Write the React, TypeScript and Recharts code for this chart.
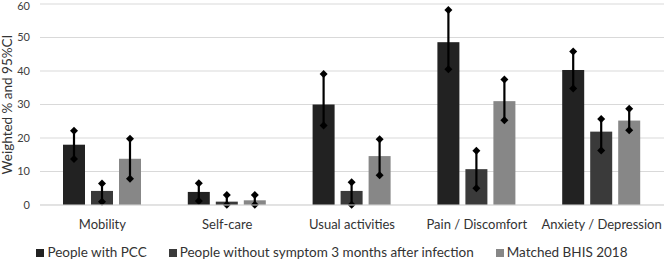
import React from 'react';
import { BarChart, Bar, XAxis, YAxis, CartesianGrid, Legend } from 'recharts';

const categories = ['Mobility', 'Self-care', 'Usual activities', 'Pain / Discomfort', 'Anxiety / Depression'];

const pcc = [18, 3.9, 30, 48.6, 40.3];
const pccLow = [13.7, 1.2, 23.7, 40.5, 34.8];
const pccHigh = [22.2, 6.5, 39.1, 58.2, 45.8];

const without = [4.2, 1.0, 4.2, 10.7, 21.9];
const withoutLow = [1.0, 0.1, 0.1, 5.0, 16.3];
const withoutHigh = [6.4, 3.0, 6.8, 16.2, 25.7];

const bhis = [13.8, 1.4, 14.6, 31.0, 25.2];
const bhisLow = [7.8, 0.1, 8.9, 25.3, 22.3];
const bhisHigh = [19.8, 3.0, 19.6, 37.5, 28.7];

const yTicks = [0, 10, 20, 30, 40, 50, 60];

const SERIES = [
	{ key: 'pcc', name: 'People with PCC', color: '#222222' },
	{ key: 'without', name: 'People without symptom 3 months after infection', color: '#3a3a3a' },
	{ key: 'bhis', name: 'Matched BHIS 2018', color: '#878787' },
];

const data = categories.map((c, i) => ({
	category: c,
	pcc: pcc[i],
	pccLow: pccLow[i],
	pccHigh: pccHigh[i],
	without: without[i],
	withoutLow: withoutLow[i],
	withoutHigh: withoutHigh[i],
	bhis: bhis[i],
	bhisLow: bhisLow[i],
	bhisHigh: bhisHigh[i],
}));

const FONT = 'Lato, "Open Sans", sans-serif';
const TEXT = '#333333';

// bar plus its 95% CI whisker with diamond ends, scaled from the bar's own height
function makeShape(key: string) {
	return (props: any) => {
		const { x, y, width, height, fill, payload } = props;
		const v = payload[key];
		const k = v > 0 ? height / v : 0;
		const base = y + height;
		const yl = base - payload[key + 'Low'] * k;
		const yh = base - payload[key + 'High'] * k;
		const cx = x + width / 2;
		const d = 4;
		const diamond = (cy: number) => `M${cx},${cy - d}L${cx + d},${cy}L${cx},${cy + d}L${cx - d},${cy}Z`;
		return (
			<g>
				<rect x={x} y={y} width={width} height={height} fill={fill} />
				<line x1={cx} x2={cx} y1={yh} y2={yl} stroke="#000" strokeWidth={2.2} />
				<path d={diamond(yh)} fill="#000" />
				<path d={diamond(yl)} fill="#000" />
			</g>
		);
	};
}

function LegendContent() {
	return (
		<div
			style={{
				display: 'flex',
				justifyContent: 'center',
				gap: 22,
				height: 15,
				lineHeight: '15px',
				fontFamily: FONT,
				fontSize: 13.5,
				color: TEXT,
				whiteSpace: 'nowrap',
			}}
		>
			{SERIES.map((s) => (
				<div key={s.key} style={{ display: 'flex', alignItems: 'center' }}>
					<span style={{ width: 8, height: 8, background: s.color, marginRight: 3, display: 'inline-block' }} />
					<span>{s.name}</span>
				</div>
			))}
		</div>
	);
}

export default function App() {
	return (
		<div style={{ width: 664, height: 260 }}>
			<style>{'body{margin:0}'}</style>
			<BarChart
				width={664}
				height={260}
				data={data}
				margin={{ top: 4, right: 0, left: 0, bottom: 0 }}
				barSize={22}
				barGap={6}
			>
				<CartesianGrid vertical={false} stroke="#d9d9d9" />
				<XAxis
					dataKey="category"
					height={40}
					tickLine={false}
					tickSize={0}
					tickMargin={15}
					axisLine={{ stroke: '#d9d9d9' }}
					interval={0}
					tick={{ fontSize: 13, fill: TEXT, fontFamily: FONT }}
				/>
				<YAxis
					domain={[0, 60]}
					ticks={yTicks}
					width={40}
					axisLine={false}
					tickLine={false}
					tickSize={0}
					tickMargin={10}
					tick={{ fontSize: 11, fill: '#404040', fontFamily: FONT }}
					label={{
						value: 'Weighted % and 95%CI',
						angle: -90,
						position: 'insideLeft',
						offset: 7,
						style: { fontSize: 13.5, fill: TEXT, fontFamily: FONT, textAnchor: 'middle' },
					}}
				/>
				<Legend verticalAlign="bottom" height={15} content={<LegendContent />} />
				{SERIES.map((s) => (
					<Bar
						key={s.key}
						dataKey={s.key}
						name={s.name}
						fill={s.color}
						isAnimationActive={false}
						shape={makeShape(s.key)}
					/>
				))}
			</BarChart>
		</div>
	);
}
